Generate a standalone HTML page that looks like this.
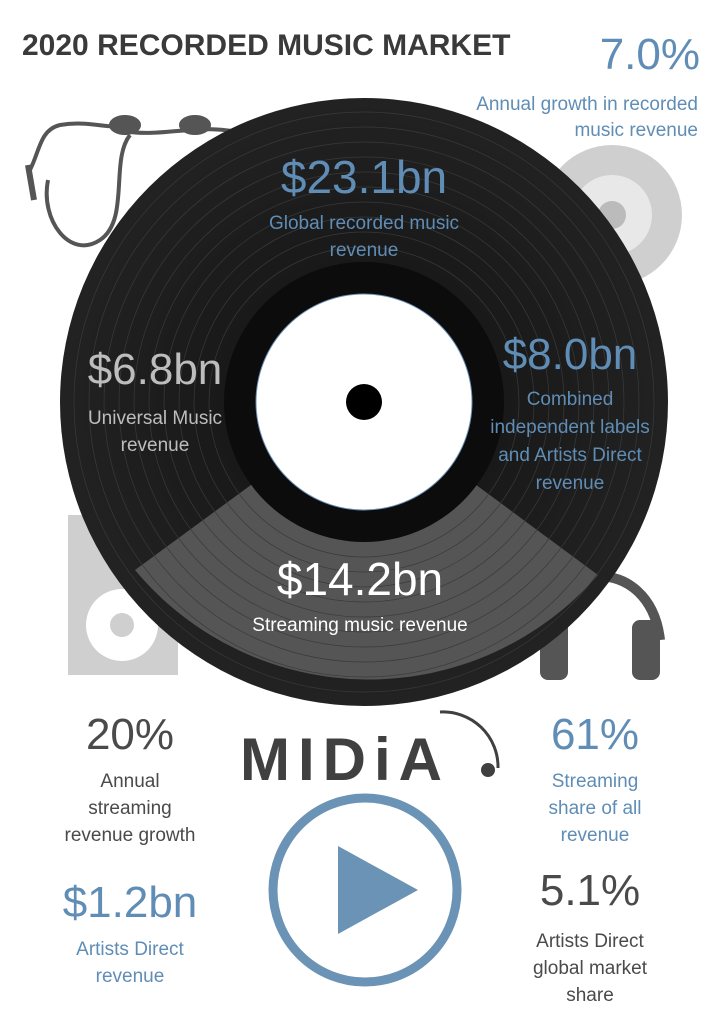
<!DOCTYPE html>
<html><head><meta charset="utf-8"><style>
body{margin:0;width:724px;height:1024px;background:#fff;overflow:hidden;position:relative;font-family:"Liberation Sans",sans-serif}
.t{position:absolute;text-align:center;white-space:nowrap}
.b{color:#5f8db5}.g{color:#4a4a4a}.w{color:#fff}.lg{color:#bdbdbd}
</style></head><body>
<svg width="724" height="1024" style="position:absolute;left:0;top:0">
<defs><radialGradient id="gr"><stop offset="0" stop-color="#111"/><stop offset="1" stop-color="#222"/></radialGradient></defs>
<g fill="none" stroke="#555" stroke-width="4">
<path d="M30 170 C40 150 40 130 60 125 C90 120 110 130 125 125"/>
<path d="M48 180 C40 220 70 260 100 240 C130 220 110 160 130 135"/>
<path d="M120 130 C160 140 200 120 250 135"/>
<ellipse cx="125" cy="125" rx="14" ry="8" fill="#555"/>
<ellipse cx="195" cy="125" rx="14" ry="8" fill="#555"/>
<path d="M28 165 L34 200" stroke-width="6"/>
</g>
<g>
<circle cx="612" cy="215" r="70" fill="#cfcfcf"/>
<circle cx="612" cy="215" r="40" fill="#e8e8e8"/>
<circle cx="612" cy="215" r="14" fill="#bbb"/>
</g>
<g>
<rect x="68" y="515" width="110" height="160" fill="#cfcfcf"/>
<circle cx="122" cy="545" r="10" fill="#fff"/>
<circle cx="122" cy="625" r="36" fill="#fff"/>
<circle cx="122" cy="625" r="12" fill="#cfcfcf"/>
</g>
<g fill="none" stroke="#555">
<path d="M550 640 C540 560 650 550 660 640" stroke-width="10"/>
<rect x="540" y="620" width="28" height="60" rx="8" fill="#555" stroke="none"/>
<rect x="632" y="620" width="28" height="60" rx="8" fill="#555" stroke="none"/>
</g>
<g>
<circle cx="364" cy="402" r="304" fill="url(#gr)"/>
<path d="M364 402 L135 570 A304 304 0 0 0 598 575 Z" fill="#555"/>
<g fill="none" stroke="#3a3a3a" stroke-width="0.7">
<circle cx="364" cy="402" r="290"/><circle cx="364" cy="402" r="275"/><circle cx="364" cy="402" r="260"/><circle cx="364" cy="402" r="245"/><circle cx="364" cy="402" r="230"/><circle cx="364" cy="402" r="215"/><circle cx="364" cy="402" r="200"/><circle cx="364" cy="402" r="185"/><circle cx="364" cy="402" r="170"/><circle cx="364" cy="402" r="155"/>
</g>
<circle cx="364" cy="402" r="140" fill="#0c0c0c"/>
<circle cx="364" cy="402" r="108" fill="#fff" stroke="#6a8fb5" stroke-width="1"/>
<circle cx="364" cy="402" r="18" fill="#000"/>
</g>
<g>
<text x="240" y="780" font-family="Liberation Sans" font-size="60" font-weight="bold" fill="#404040" letter-spacing="8">MIDiA</text>
<circle cx="488" cy="770" r="7" fill="#404040"/>
<path d="M440 712 A55 55 0 0 1 498 768" fill="none" stroke="#404040" stroke-width="3"/>
</g>
<g>
<circle cx="365" cy="890" r="92" fill="none" stroke="#6b93b5" stroke-width="9"/>
<path d="M338 846 L338 934 L418 890 Z" fill="#6b93b5"/>
</g>
</svg>
<div class="t g" style="left:22px;top:29px;font-size:30px;font-weight:bold;color:#3a3a3a">2020 RECORDED MUSIC MARKET</div>
<div class="t b" style="left:560px;top:30px;width:140px;text-align:right;font-size:44px">7.0%</div>
<div class="t b" style="left:420px;top:92px;width:278px;text-align:right;font-size:19px;line-height:26px">Annual growth in recorded<br>music revenue</div>
<div class="t b" style="left:214px;top:150px;width:300px;font-size:46px">$23.1bn</div>
<div class="t b" style="left:214px;top:210px;width:300px;font-size:19px;line-height:27px">Global recorded music<br>revenue</div>
<div class="t lg" style="left:60px;top:345px;width:190px;font-size:44px">$6.8bn</div>
<div class="t lg" style="left:60px;top:405px;width:190px;font-size:19px;line-height:27px">Universal Music<br>revenue</div>
<div class="t b" style="left:470px;top:330px;width:200px;font-size:44px">$8.0bn</div>
<div class="t b" style="left:470px;top:386px;width:200px;font-size:19px;line-height:28px">Combined<br>independent labels<br>and Artists Direct<br>revenue</div>
<div class="t w" style="left:210px;top:552px;width:300px;font-size:46px">$14.2bn</div>
<div class="t w" style="left:210px;top:615px;width:300px;font-size:19px">Streaming music revenue</div>
<div class="t g" style="left:40px;top:710px;width:180px;font-size:44px">20%</div>
<div class="t g" style="left:40px;top:768px;width:180px;font-size:19px;line-height:27px">Annual<br>streaming<br>revenue growth</div>
<div class="t b" style="left:500px;top:710px;width:190px;font-size:44px">61%</div>
<div class="t b" style="left:500px;top:768px;width:190px;font-size:19px;line-height:27px">Streaming<br>share of all<br>revenue</div>
<div class="t b" style="left:40px;top:878px;width:180px;font-size:44px">$1.2bn</div>
<div class="t b" style="left:40px;top:936px;width:180px;font-size:19px;line-height:27px">Artists Direct<br>revenue</div>
<div class="t g" style="left:495px;top:866px;width:190px;font-size:44px">5.1%</div>
<div class="t g" style="left:495px;top:928px;width:190px;font-size:19px;line-height:27px">Artists Direct<br>global market<br>share</div>
</body></html>
